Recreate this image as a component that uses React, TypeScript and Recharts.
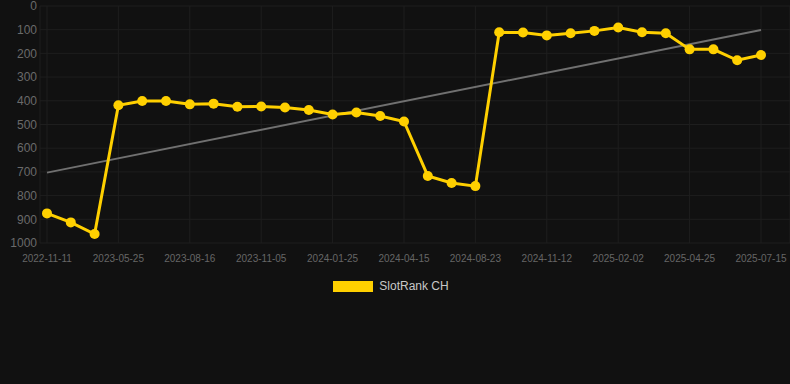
import React from 'react';
import { LineChart, Line, XAxis, YAxis, CartesianGrid, Legend, ReferenceLine } from 'recharts';

const dates = [
  '2022-11-11', '2023-01-14', '2023-03-20', '2023-05-25', '2023-06-22', '2023-07-20',
  '2023-08-16', '2023-09-12', '2023-10-09', '2023-11-05', '2023-12-02', '2023-12-29',
  '2024-01-25', '2024-02-21', '2024-03-19', '2024-04-15', '2024-05-28', '2024-07-10',
  '2024-08-23', '2024-09-18', '2024-10-15', '2024-11-12', '2024-12-09', '2025-01-05',
  '2025-02-02', '2025-03-02', '2025-03-28', '2025-04-25', '2025-05-22', '2025-06-18',
  '2025-07-15',
];

const rankCH = [
  875, 913, 962, 419, 401, 401, 415, 412, 425, 424, 428, 439, 458, 449, 464, 487,
  717, 747, 760, 111, 112, 124, 115, 105, 91, 111, 115, 183, 183, 229, 207,
];

// trend line end values
const trendStart = 703;
const trendEnd = 101;

const yTicks = [0, 100, 200, 300, 400, 500, 600, 700, 800, 900, 1000];
const xTicks = dates.filter((_, i) => i % 3 === 0);

const data = dates.map((d, i) => ({ date: d, rank: rankCH[i] }));

const YELLOW = '#ffd000';

const LegendBox = () => (
  <div style={{ display: 'flex', justifyContent: 'center', alignItems: 'center', paddingRight: 8, paddingTop: 12 }}>
    <span style={{ display: 'inline-block', width: 40, height: 11, background: YELLOW, marginRight: 6 }} />
    <span style={{ color: '#c8c8c8', fontSize: 12, fontFamily: '"Liberation Sans", Arial, sans-serif' }}>SlotRank CH</span>
  </div>
);

export default function App() {
  return (
    <div style={{ position: 'fixed', left: 0, top: 0, width: 790, height: 384, background: '#111111' }}>
      <LineChart width={790} height={300} data={data} margin={{ top: 6, right: 0, left: 0, bottom: 0 }}>
        <CartesianGrid stroke="#1e1e1e" strokeWidth={1} />
        <XAxis
          dataKey="date"
          ticks={xTicks}
          interval={0}
          tickLine={false}
          axisLine={false}
          height={24}
          tickSize={0}
          tickMargin={12}
          padding={{ left: 7, right: 29 }}
          tick={{ fill: '#666666', fontSize: 10, fontFamily: '"Liberation Sans", Arial, sans-serif' }}
        />
        <YAxis
          reversed
          domain={[0, 1000]}
          ticks={yTicks}
          interval={0}
          tickLine={false}
          axisLine={false}
          width={40}
          tickSize={0}
          tickMargin={3}
          tick={{ fill: '#6a6a6a', fontSize: 12, fontFamily: '"Liberation Sans", Arial, sans-serif' }}
        />
        <Legend verticalAlign="bottom" height={33} content={<LegendBox />} wrapperStyle={{ left: 0, width: 790 }} />
        <ReferenceLine
          segment={[{ x: dates[0], y: trendStart }, { x: dates[dates.length - 1], y: trendEnd }]}
          stroke="#707070"
          strokeWidth={2}
          ifOverflow="visible"
        />
        <Line
          type="linear"
          dataKey="rank"
          stroke={YELLOW}
          strokeWidth={3}
          dot={{ r: 5, fill: YELLOW, stroke: YELLOW, strokeWidth: 0 }}
          activeDot={false}
          isAnimationActive={false}
        />
      </LineChart>
    </div>
  );
}
